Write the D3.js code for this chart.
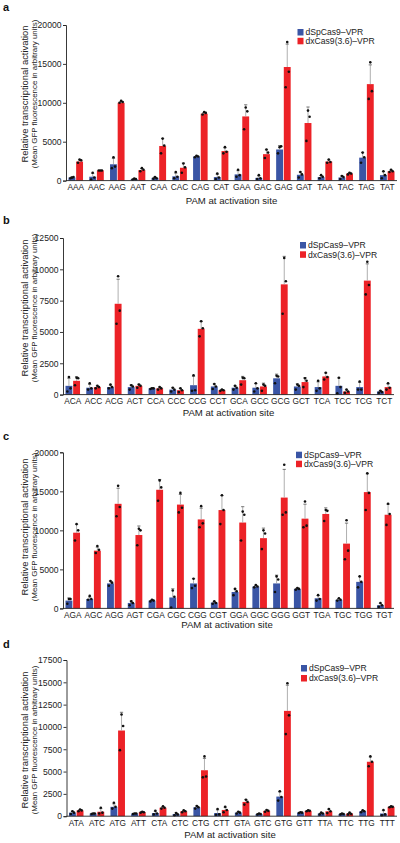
<!DOCTYPE html>
<html><head><meta charset="utf-8">
<script src="https://cdn.jsdelivr.net/npm/d3@7"></script>
<style>
body{margin:0;background:#fff;}
svg{display:block;font-family:Arial,"Liberation Sans",Helvetica,sans-serif;}
</style></head>
<body><svg id="chart" width="400" height="843"></svg>
<script>
// ---------------- DATA ----------------
const seriesNames = ["dSpCas9–VPR", "dxCas9(3.6)–VPR"];

// Panel a
const catsA = ["AAA","AAC","AAG","AAT","CAA","CAC","CAG","CAT","GAA","GAC","GAG","GAT","TAA","TAC","TAG","TAT"];
const blueA = [400,500,2100,200,350,550,3100,450,800,350,4000,750,450,400,2950,700];
const redA  = [2450,1300,10000,1350,4450,1650,8600,3800,8250,3400,14600,7400,2450,900,12400,1200];
const blueDotsA = [[300,450,380],[150,400,1000],[1600,1800,3000],[150,200,250],[250,300,450],[300,500,1100],[3000,3100,3200],[200,400,900],[500,700,1400],[200,300,700],[3500,4400,4300],[400,800,1100],[300,500,700],[200,450,600],[2300,3000,3600],[300,700,1200]];
const redDotsA  = [[2300,2600,2700],[1300,1300,1300],[10000,10100,10250],[1200,1400,1600],[3500,4500,5400],[1000,1700,2200],[8500,8700,8800],[3500,3700,4300],[6600,8900,9400],[2900,3600,4000],[12000,14000,17800],[5100,8200,9000],[2300,2400,2700],[800,900,1000],[10500,11500,15200],[1100,1200,1400]];
const ticksA = [0,5000,10000,15000,20000];

// Panel b
const catsB = ["ACA","ACC","ACG","ACT","CCA","CCC","CCG","CCT","GCA","GCC","GCG","GCT","TCA","TCC","TCG","TCT"];
const blueB = [700,550,600,600,500,400,750,650,550,550,1300,650,600,700,600,250];
const redB  = [1100,600,7250,700,500,350,5250,350,1150,650,8800,1000,1450,250,9100,600];
const blueDotsB = [[250,500,1400],[400,500,900],[500,600,800],[400,650,750],[450,500,500],[250,400,550],[300,350,1550],[450,650,850],[400,550,700],[250,500,900],[900,1450,1500],[400,700,800],[300,500,1100],[100,600,1350],[400,400,1050],[150,200,300]];
const redDotsB  = [[750,1300,1350],[500,600,700],[5650,6700,9450],[550,700,800],[400,500,600],[200,350,500],[4650,5300,5850],[300,350,400],[800,1300,1350],[300,700,800],[6450,9050,10900],[600,1100,1300],[1200,1400,1750],[150,250,400],[8000,8750,10600],[400,550,900]];
const ticksB = [0,2500,5000,7500,10000,12500];

// Panel c
const catsC = ["AGA","AGC","AGG","AGT","CGA","CGC","CGG","CGT","GGA","GGC","GGG","GGT","TGA","TGC","TGG","TGT"];
const blueC = [1000,1200,3200,700,1000,1400,3200,750,2100,2800,3200,2500,1300,1100,3400,400];
const redC  = [9700,7400,13400,9400,15200,13300,11400,12600,11000,9000,14200,11500,12100,8300,14900,12000];
const blueDotsC = [[600,1200,1200],[1100,1200,1600],[2900,3300,3500],[400,700,900],[900,1000,1100],[100,1500,2300],[2600,2900,3800],[600,700,900],[1700,2200,2500],[2700,2800,3000],[2100,3700,4100],[2400,2500,2600],[1000,1200,1700],[1000,1100,1300],[2700,3400,4100],[200,400,700]];
const redDotsC  = [[8700,10000,10800],[7100,7500,8000],[11800,13000,15700],[8100,10000,10200],[13800,15500,16400],[12300,12900,14800],[10400,10900,13100],[10800,12600,14500],[8700,12000,12400],[7600,9600,10000],[12000,12300,18400],[10400,10600,13700],[11200,12500,12600],[6300,7400,11300],[12600,14800,17300],[10700,12100,13400]];
const ticksC = [0,5000,10000,15000,20000];

// Panel d
const catsD = ["ATA","ATC","ATG","ATT","CTA","CTC","CTG","CTT","GTA","GTC","GTG","GTT","TTA","TTC","TTG","TTT"];
const blueD = [400,300,1050,300,350,250,1000,350,400,250,2200,400,300,250,550,300];
const redD  = [650,500,9600,450,950,550,5150,700,1600,600,11800,600,550,300,6100,1050];
const blueDotsD = [[250,400,550],[250,300,300],[850,1050,1500],[250,300,300],[200,300,600],[100,200,350],[850,1000,1150],[150,200,800],[300,400,500],[200,250,300],[1750,2150,2800],[350,400,450],[200,300,400],[200,250,300],[450,550,650],[100,200,700]];
const redDotsD  = [[550,650,750],[300,400,950],[7400,10100,11400],[400,450,500],[850,950,1100],[450,550,650],[4350,4450,6700],[450,700,1050],[1300,1600,1850],[500,600,700],[9200,11300,14900],[550,600,650],[350,550,800],[200,250,400],[5600,6100,6700],[1000,1050,1100]];
const ticksD = [0,2500,5000,7500,10000,12500,15000,17500];

// ---------------- LAYOUT ----------------
const colors = ["#3a55a5", "#ec2227"];
const panels = [
  {tag:"a", cats:catsA, vals:[blueA,redA], dots:[blueDotsA,redDotsA], ticks:ticksA,
   x0:66, x1:397, yTop:25, yBot:180.6, tagPos:[3,11], leg:[297.5,29], legGap:8.8, xt:[231.5,204], ytc:94},
  {tag:"b", cats:catsB, vals:[blueB,redB], dots:[blueDotsB,redDotsB], ticks:ticksB,
   x0:63, x1:394, yTop:238, yBot:394.6, tagPos:[3,224], leg:[300,242], legGap:9.3, xt:[228.5,416], ytc:308},
  {tag:"c", cats:catsC, vals:[blueC,redC], dots:[blueDotsC,redDotsC], ticks:ticksC,
   x0:63, x1:394, yTop:452.3, yBot:608.4, tagPos:[3,439.5], leg:[296,451.7], legGap:9, xt:[227,628], ytc:527},
  {tag:"d", cats:catsD, vals:[blueD,redD], dots:[blueDotsD,redDotsD], ticks:ticksD,
   x0:66.5, x1:397, yTop:660, yBot:816.2, tagPos:[3,647.5], leg:[301,665], legGap:10, xt:[230,838], ytc:740}
];
const dotOffsets = [-1.6, 1.6, 0];

const svg = d3.select("#chart");

panels.forEach(p => {
  const g = svg.append("g");
  const x = d3.scaleBand().domain(p.cats).range([p.x0, p.x1]).paddingInner(0.3).paddingOuter(0.12);
  const xs = d3.scaleBand().domain([0,1]).range([0, x.bandwidth()]).paddingInner(0.1);
  const ymax = p.ticks[p.ticks.length-1];
  const y = d3.scaleLinear().domain([0, ymax]).range([p.yBot, p.yTop]);

  // bars, error bars, dots
  [0,1].forEach(s => {
    const sg = g.append("g");
    const data = p.cats.map((c,i) => ({c, v:p.vals[s][i], d:p.dots[s][i]}));
    sg.selectAll("rect").data(data).join("rect")
      .attr("x", d => x(d.c) + xs(s))
      .attr("width", xs.bandwidth())
      .attr("y", d => y(d.v))
      .attr("height", d => p.yBot - y(d.v))
      .attr("fill", colors[s]);
    // error bars (mean + SD)
    data.forEach(d => {
      const sd = d3.deviation(d.d);
      const cx = x(d.c) + xs(s) + xs.bandwidth()/2;
      sg.append("line").attr("x1",cx).attr("x2",cx).attr("y1",y(d.v)).attr("y2",y(d.v+sd))
        .attr("stroke","#9a9a9a").attr("stroke-width",0.8);
      sg.append("line").attr("x1",cx-1.6).attr("x2",cx+1.6).attr("y1",y(d.v+sd)).attr("y2",y(d.v+sd))
        .attr("stroke","#555").attr("stroke-width",0.8);
      sg.selectAll(null).data(d.d).join("circle")
        .attr("cx",(v,k)=>cx+dotOffsets[k]).attr("cy",v=>y(v)).attr("r",1.3).attr("fill","#111");
    });
  });

  // y axis
  const ya = g.append("g").attr("transform",`translate(${p.x0},0)`)
    .call(d3.axisLeft(y).tickValues(p.ticks).tickFormat(d3.format("d")).tickSize(3).tickPadding(1.5));
  ya.select(".domain").attr("stroke","#222").attr("stroke-width",0.9);
  ya.selectAll(".tick line").attr("stroke","#222").attr("stroke-width",0.9);
  ya.selectAll("text").attr("font-size","8.6px").attr("fill","#222").attr("font-family",null);

  // x axis
  const xa = g.append("g").attr("transform",`translate(0,${p.yBot})`)
    .call(d3.axisBottom(x).tickSize(0).tickPadding(3.5));
  xa.select(".domain").attr("stroke","#222").attr("stroke-width",0.9).attr("d",`M${p.x0},0H${p.x1}`);
  xa.selectAll("text").attr("font-size","8.3px").attr("fill","#222").attr("font-family",null);

  // axis titles
  g.append("text").attr("x",p.xt[0]).attr("y",p.xt[1]).attr("text-anchor","middle")
    .attr("font-size","9.6px").attr("fill","#222").text("PAM at activation site");
  g.append("text").attr("transform",`translate(27.5,${p.ytc}) rotate(-90)`).attr("text-anchor","middle")
    .attr("font-size","9.4px").attr("fill","#222").text("Relative transcriptional activation");
  g.append("text").attr("transform",`translate(37,${p.ytc}) rotate(-90)`).attr("text-anchor","middle")
    .attr("font-size","7.9px").attr("fill","#222").text("(Mean GFP fluorescence in arbitrary units)");

  // panel tag
  g.append("text").attr("x",p.tagPos[0]).attr("y",p.tagPos[1]).attr("font-size","11px")
    .attr("font-weight","bold").attr("fill","#111").text(p.tag);

  // legend
  seriesNames.forEach((n,i) => {
    const ly = p.leg[1] + i*p.legGap;
    g.append("rect").attr("x",p.leg[0]).attr("y",ly).attr("width",6).attr("height",6.5).attr("fill",colors[i]);
    g.append("text").attr("x",p.leg[0]+8).attr("y",ly+6.4).attr("font-size","8.6px").attr("fill","#222").text(n);
  });
});
</script></body></html>
